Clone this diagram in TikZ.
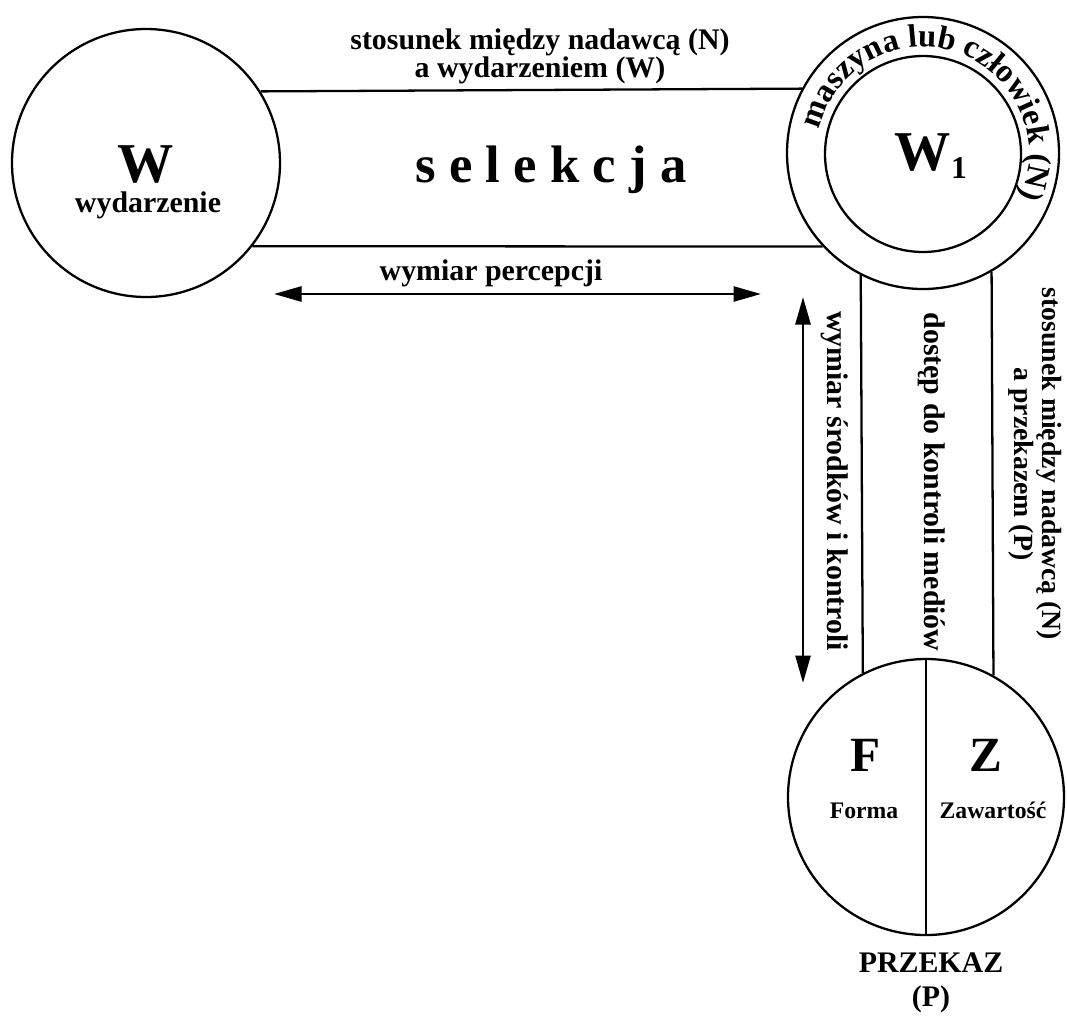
\documentclass[tikz,border=0pt]{standalone}
\usepackage{fontspec}
\setmainfont{Liberation Serif}
\usetikzlibrary{positioning,arrows.meta,decorations.text}

\begin{document}
\begin{tikzpicture}[
      circ/.style  = {circle, draw, line width=1.3pt, inner sep=0pt},
      lbl/.style   = {font=\fontsize{17}{16}\selectfont\bfseries, align=center},
      vlbl/.style  = {lbl, rotate=-90},
      big/.style   = {font=\fontsize{32}{32}\selectfont\bfseries},
      small/.style = {font=\fontsize{13.5}{14}\selectfont\bfseries},
      link/.style  = {line width=1.3pt},
      dimarrow/.style = {{Triangle[length=0.55cm,width=0.3cm]}-{Triangle[length=0.55cm,width=0.3cm]},
                      line width=1.5pt},
      node distance=0cm
    ]
    \useasboundingbox (0,0) rectangle (21.34,-20.34);

    % Circles
    \node[circ, minimum size=5.36cm] (W)   at (2.92,-3.26) {};
    \node[circ, minimum size=5.44cm] (W1o) at (18.46,-3.06) {};
    \node[circ, minimum size=3.92cm] (W1i) at (18.46,-3.08) {};
    \node[circ, minimum size=5.52cm] (P)   at (18.52,-15.94) {};

    % Texts in circles
    \node[big] (wlbl) at (2.92,-3.3) {W};
    \node[lbl] (wyd) at (2.96,-4.1) {wydarzenie};
    \node[big] (w1lbl) at (18.62,-3.12) {W\raisebox{-5pt}{\fontsize{18}{18}\selectfont 1}};
    \node[font=\fontsize{28}{28}\selectfont\bfseries] (flbl) at (17.32,-15.1) {F};
    \node[font=\fontsize{28}{28}\selectfont\bfseries] (zlbl) at (19.72,-15.1) {Z};
    \node[small, anchor=base] (forma) at (17.28,-16.36) {Forma};
    \node[small, anchor=base] (zaw) at (19.86,-16.36) {Zawartość};
    \node[lbl] (przekaz) at (18.62,-19.26) {PRZEKAZ};
    \node[lbl, below=of przekaz] (plbl) {(P)};

    % Ring text
    \path[decorate, decoration={text along path, text align=center,
          text={|\fontsize{18.5}{18.5}\selectfont\bfseries|maszyna lub człowiek (N)}}]
      ([shift={(165:2.12)}]W1o.center) arc[start angle=165, end angle=-22, radius=2.12];

    % Channels
    \draw[link] (W.32.5)   -- (W1o.152.9);
    \draw[link] (W.-38.3)  -- (W1o.223.2);
    \draw[link] (W1o.243.8) -- (P.117.2);
    \draw[link] (W1o.300.5) -- (P.61.4);
    \draw[link] (P.north) -- (P.south);

    % Labels
    \node[lbl] (nw) at (10.8,-1.12) {stosunek między nadawcą (N)\\a wydarzeniem (W)};
    \node[font=\fontsize{30}{30}\selectfont\bfseries, anchor=base] (sel) at (11.02,-3.64) {s e l e k c j a};
    \node[lbl, anchor=base] (perc) at (9.82,-5.6) {wymiar percepcji};
    \node[vlbl] (srod) at (16.7,-9.62) {wymiar środków i kontroli};
    \node[vlbl] (dost) at (18.64,-9.64) {dostęp do kontroli mediów};
    \node[vlbl, font=\fontsize{15.8}{16}\selectfont\bfseries] (np) at (20.7,-9.28)
      {stosunek między nadawcą (N)\\a przekazem (P)};

    % Arrows
    \coordinate (pl) at (5.48,-5.88);
    \coordinate (pr) at (15.22,-5.88);
    \coordinate (st) at (16.06,-5.94);
    \coordinate (sb) at (16.06,-13.66);
    \draw[dimarrow] (pl) -- (pr);
    \draw[dimarrow] (st) -- (sb);
  \end{tikzpicture}
\end{document}
